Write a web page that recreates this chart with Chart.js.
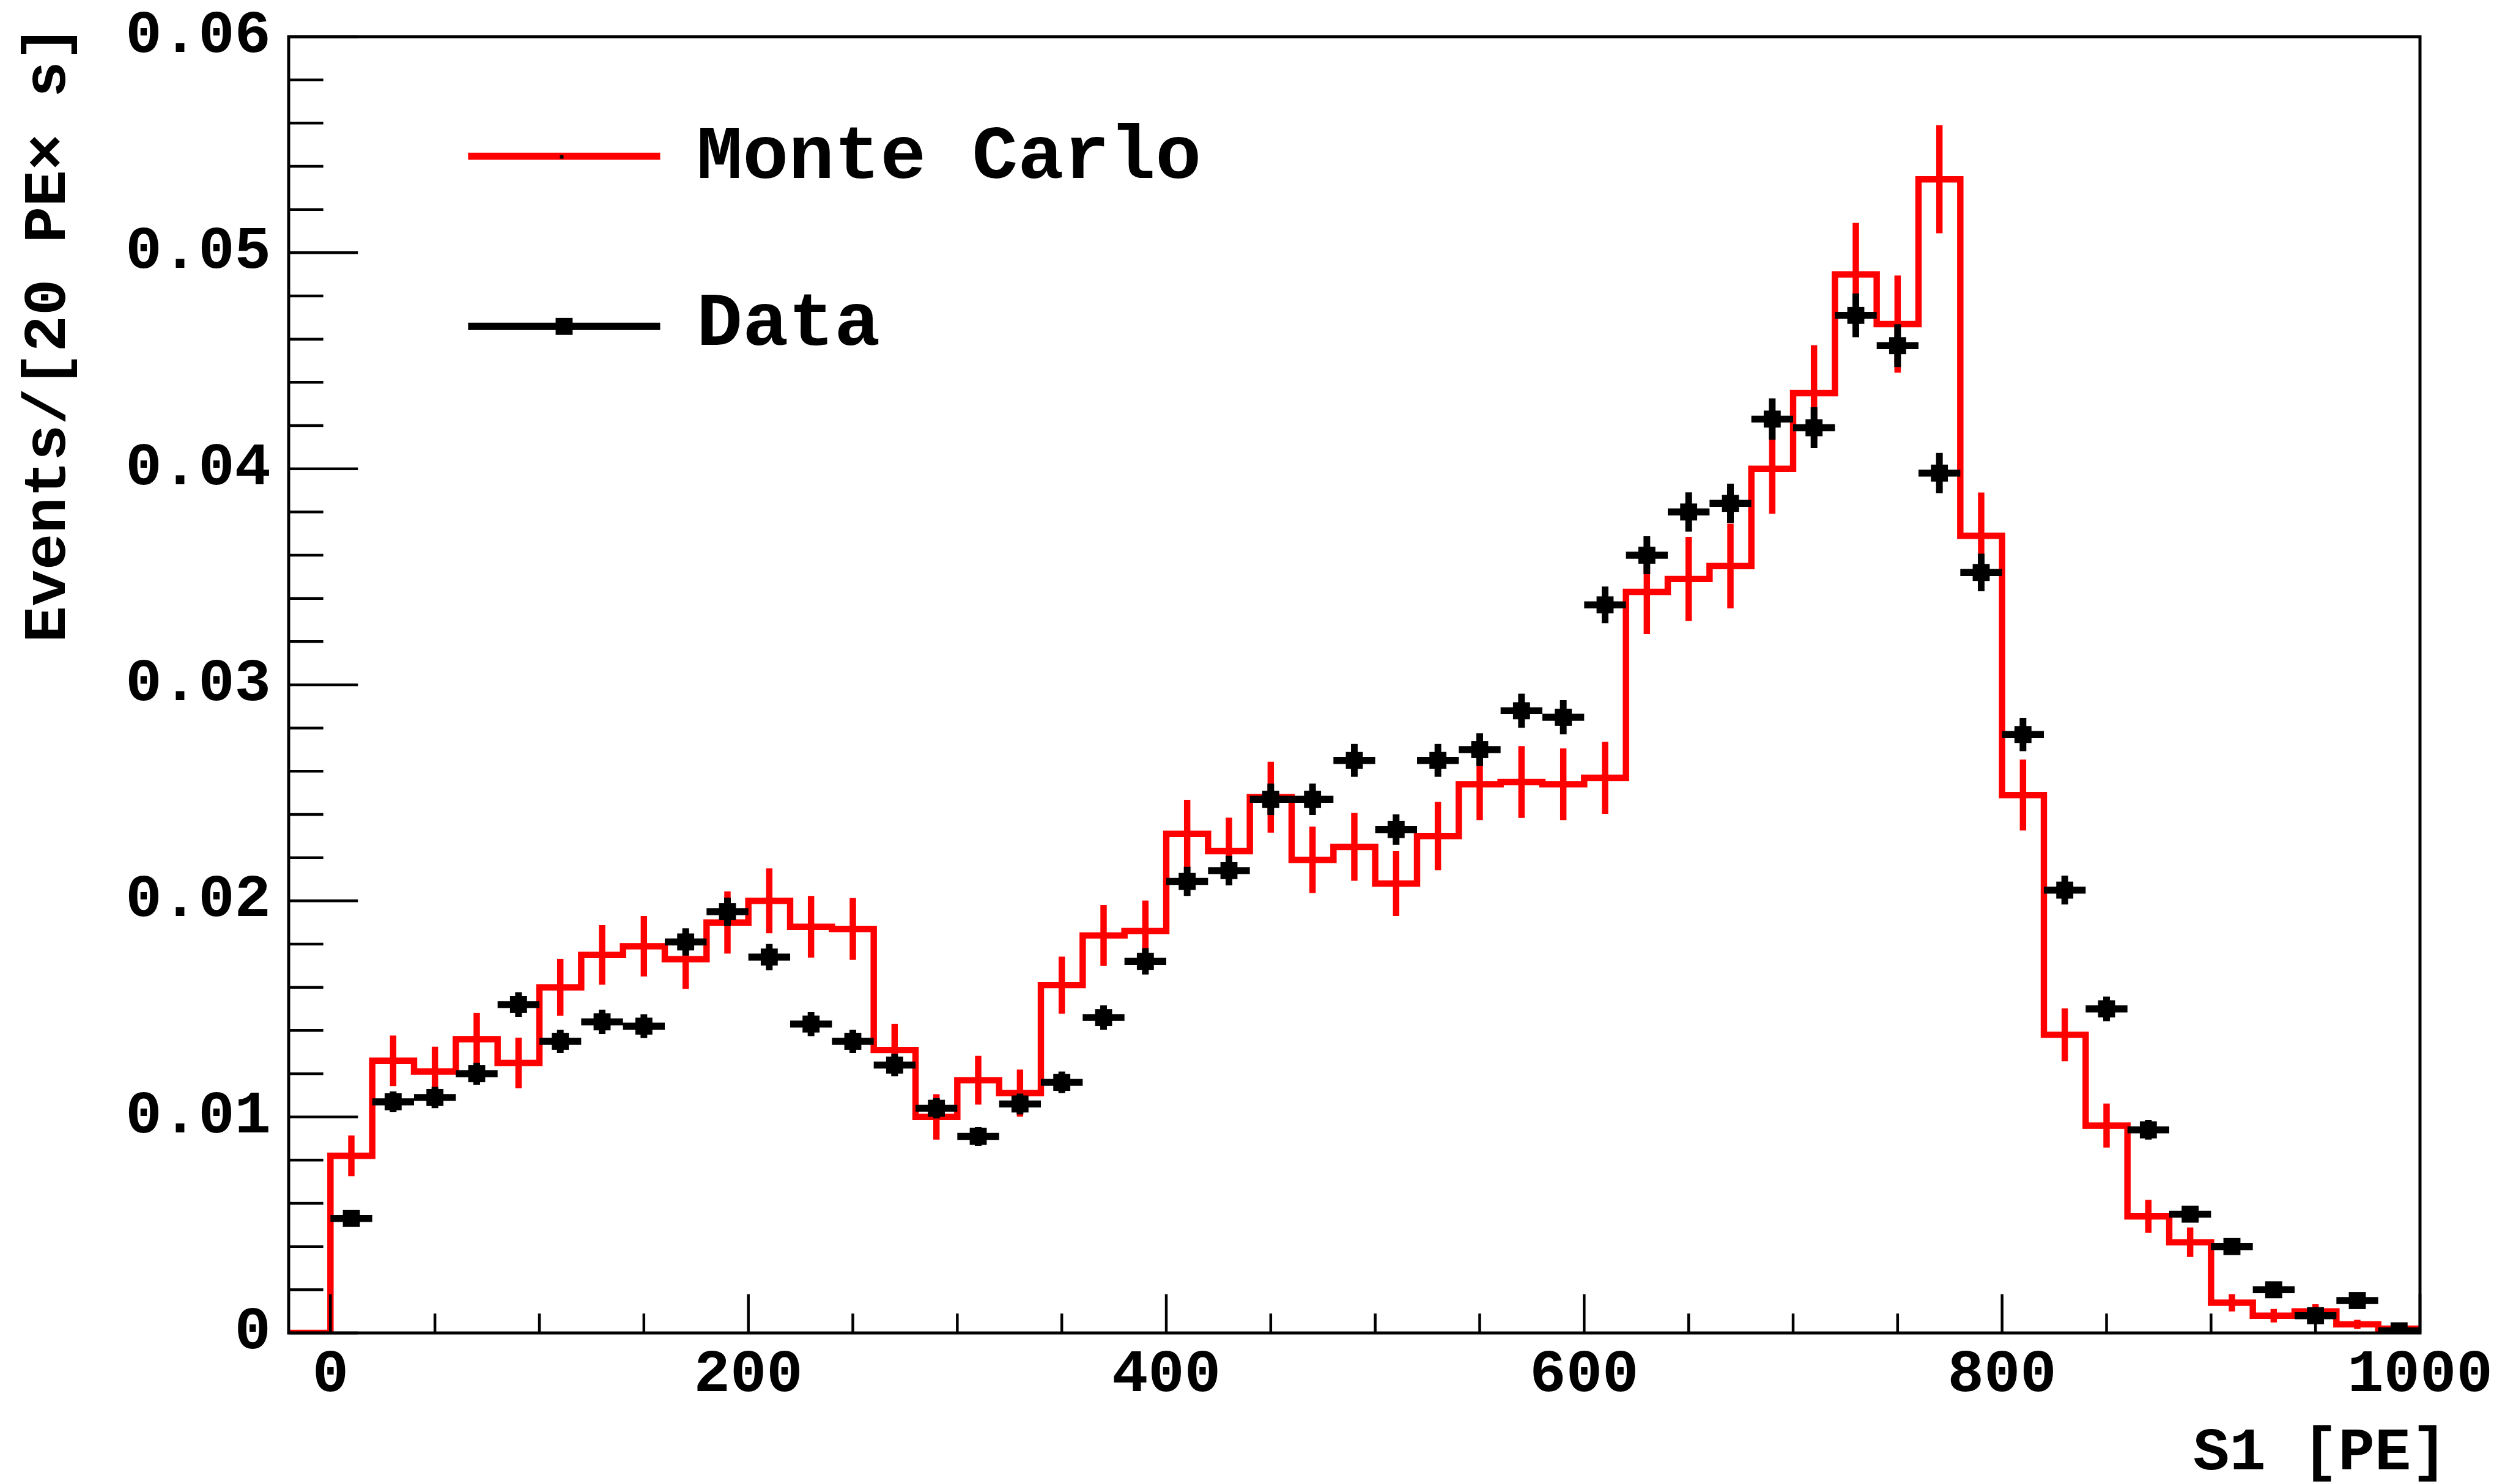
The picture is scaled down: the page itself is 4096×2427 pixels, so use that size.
<!DOCTYPE html>
<html>
<head>
<meta charset="utf-8">
<script src="https://cdn.jsdelivr.net/npm/chart.js@4.4.1/dist/chart.umd.min.js"></script>
<style>
  html, body { margin: 0; padding: 0; background: #fff; }
  canvas { display: block; }
</style>
</head>
<body>
<canvas id="s1Chart" width="4096" height="2427"></canvas>
<script>
// S1 spectrum, 20 PE bins from 0 to 1000
const binCenters = [10, 30, 50, 70, 90, 110, 130, 150, 170, 190, 210, 230, 250, 270, 290, 310, 330, 350, 370, 390,
  410, 430, 450, 470, 490, 510, 530, 550, 570, 590, 610, 630, 650, 670, 690, 710, 730, 750, 770, 790,
  810, 830, 850, 870, 890, 910, 930, 950, 970, 990];
const binHalfWidth = 10;

const mcValues = [0.0082, 0.0126, 0.0121, 0.0136, 0.0125, 0.0160, 0.0175, 0.0179, 0.0173, 0.0190,
  0.0200, 0.0188, 0.0187, 0.0131, 0.0100, 0.0117, 0.0111, 0.0161, 0.0184, 0.0186,
  0.0231, 0.0223, 0.0248, 0.0219, 0.0225, 0.0208, 0.0230, 0.0254, 0.0255, 0.0254,
  0.0257, 0.0343, 0.0349, 0.0355, 0.0400, 0.0435, 0.0490, 0.0467, 0.0534, 0.0369,
  0.0249, 0.0138, 0.0096, 0.0054, 0.0042, 0.0014, 0.0008, 0.0010, 0.0004, 0.0002];
const mcErrors = [0.00094, 0.00117, 0.00115, 0.00121, 0.00117, 0.00132, 0.00138, 0.00140, 0.00137, 0.00144,
  0.00150, 0.00143, 0.00143, 0.00120, 0.00105, 0.00113, 0.00109, 0.00132, 0.00141, 0.00142,
  0.00158, 0.00155, 0.00164, 0.00154, 0.00157, 0.00150, 0.00158, 0.00166, 0.00166, 0.00166,
  0.00167, 0.00195, 0.00195, 0.00196, 0.00208, 0.00222, 0.00238, 0.00225, 0.00250, 0.00200,
  0.00164, 0.00122, 0.00102, 0.00076, 0.00068, 0.00040, 0.00031, 0.00033, 0.00021, 0.00015];

const dataValues = [0.0053, 0.0107, 0.0109, 0.0120, 0.0152, 0.0135, 0.0144, 0.0142, 0.0181, 0.0195,
  0.0174, 0.0143, 0.0135, 0.0124, 0.0104, 0.0091, 0.0106, 0.0116, 0.0146, 0.0172,
  0.0209, 0.0214, 0.0247, 0.0247, 0.0265, 0.0233, 0.0265, 0.0270, 0.0288, 0.0285,
  0.0337, 0.0360, 0.0380, 0.0384, 0.0423, 0.0419, 0.0471, 0.0457, 0.0398, 0.0352,
  0.0277, 0.0205, 0.0150, 0.0094, 0.0055, 0.0040, 0.0020, 0.0008, 0.0015, 0.0001];
const dataErrors = [0.00034, 0.00048, 0.00049, 0.00051, 0.00057, 0.00054, 0.00056, 0.00055, 0.00063, 0.00065,
  0.00061, 0.00056, 0.00054, 0.00052, 0.00047, 0.00044, 0.00048, 0.00050, 0.00056, 0.00061,
  0.00067, 0.00068, 0.00073, 0.00073, 0.00076, 0.00071, 0.00076, 0.00076, 0.00079, 0.00079,
  0.00085, 0.00088, 0.00091, 0.00091, 0.00096, 0.00095, 0.00101, 0.00099, 0.00093, 0.00087,
  0.00077, 0.00067, 0.00057, 0.00045, 0.00035, 0.00029, 0.00021, 0.00013, 0.00018, 0.00005];

const xTickValues = [0, 200, 400, 600, 800, 1000];
const yTickValues = [0, 0.01, 0.02, 0.03, 0.04, 0.05, 0.06];

const S = 0.994;
const font = size => ({ family: 'Liberation Mono', weight: 'bold', size: size });

// histogram outline: value held from the left edge of each bin
const mcSteps = [{ x: -20, y: 0 }];
binCenters.forEach((c, i) => mcSteps.push({ x: c - binHalfWidth, y: mcValues[i] }));
mcSteps.push({ x: 1000, y: mcValues[mcValues.length - 1] });

const verticalBars = (vals, errs) => {
  const pts = [];
  binCenters.forEach((c, i) => {
    pts.push({ x: c, y: vals[i] - errs[i] }, { x: c, y: vals[i] + errs[i] }, { x: c, y: null });
  });
  return pts;
};
const horizontalBars = vals => {
  const pts = [];
  binCenters.forEach((c, i) => {
    pts.push({ x: c - binHalfWidth, y: vals[i] }, { x: c + binHalfWidth, y: vals[i] }, { x: c + binHalfWidth, y: null });
  });
  return pts;
};

// frame, inward ticks, axis titles and legend
const rootStyle = {
  id: 'rootStyle',
  afterDatasetsDraw(chart) {
    const { ctx, chartArea: a, scales: { x, y } } = chart;
    ctx.save();
    ctx.strokeStyle = '#000';
    ctx.lineWidth = 4.5 * S;
    ctx.beginPath();
    for (let v = 0; v <= 1000; v += 50) {
      const px = x.getPixelForValue(v);
      const len = xTickValues.includes(v) ? 64 * S : 32 * S;
      ctx.moveTo(px, a.bottom);
      ctx.lineTo(px, a.bottom - len);
    }
    for (let k = 0; k <= 30; k++) {
      const v = k * 0.002;
      const py = y.getPixelForValue(v);
      const len = k % 5 === 0 ? 114 * S : 57 * S;
      ctx.moveTo(a.left, py);
      ctx.lineTo(a.left + len, py);
    }
    ctx.stroke();

    ctx.lineWidth = 5 * S;
    ctx.strokeRect(a.left, a.top, a.right - a.left, a.bottom - a.top);

    // axis titles
    ctx.fillStyle = '#000';
    ctx.font = 'bold 99px "Liberation Mono"';
    ctx.textBaseline = 'alphabetic';
    ctx.textAlign = 'right';
    ctx.fillText('S1 [PE]', 4026 * S, 2418 * S);

    ctx.save();
    ctx.translate(107 * S, 41 * S);
    ctx.rotate(-Math.PI / 2);
    ctx.textAlign = 'right';
    ctx.fillText('Events/[20 PE\u00d7 s]', 0, 0);
    ctx.restore();

    // legend
    ctx.lineCap = 'butt';
    ctx.strokeStyle = '#ff0000';
    ctx.lineWidth = 11.5 * S;
    ctx.beginPath();
    ctx.moveTo(770 * S, 257 * S);
    ctx.lineTo(1086 * S, 257 * S);
    ctx.stroke();
    ctx.fillStyle = '#000';
    ctx.fillRect(921 * S, 255 * S, 6 * S, 6 * S);

    ctx.strokeStyle = '#000';
    ctx.lineWidth = 12 * S;
    ctx.beginPath();
    ctx.moveTo(770 * S, 537 * S);
    ctx.lineTo(1086 * S, 537 * S);
    ctx.stroke();
    ctx.fillRect((928 - 14) * S, (537 - 14) * S, 28 * S, 28 * S);

    ctx.font = 'bold 125px "Liberation Mono"';
    ctx.textAlign = 'left';
    ctx.fillText('Monte Carlo', 1146 * S, 293 * S);
    ctx.fillText('Data', 1146 * S, 567 * S);
    ctx.restore();
  }
};

new Chart(document.querySelector('#s1Chart'), {
  type: 'line',
  data: {
    datasets: [
      {
        label: 'Data',
        data: binCenters.map((c, i) => ({ x: c, y: dataValues[i] })),
        showLine: false,
        pointStyle: 'rect',
        pointRadius: 19.8 * S,
        pointBackgroundColor: '#000',
        pointBorderColor: '#000',
        pointBorderWidth: 0,
        order: 0
      },
      {
        data: horizontalBars(dataValues),
        borderColor: '#000',
        borderWidth: 11.5 * S,
        pointRadius: 0,
        spanGaps: false,
        order: 1
      },
      {
        data: verticalBars(dataValues, dataErrors),
        borderColor: '#000',
        borderWidth: 11 * S,
        pointRadius: 0,
        spanGaps: false,
        order: 1
      },
      {
        label: 'Monte Carlo',
        data: mcSteps,
        stepped: 'before',
        borderColor: '#ff0000',
        borderWidth: 10.5 * S,
        pointRadius: 0,
        fill: false,
        order: 2
      },
      {
        data: verticalBars(mcValues, mcErrors),
        borderColor: '#ff0000',
        borderWidth: 10.5 * S,
        pointRadius: 0,
        spanGaps: false,
        order: 2
      }
    ]
  },
  options: {
    responsive: false,
    animation: false,
    devicePixelRatio: 1,
    events: [],
    layout: { padding: { top: 60, right: 139, left: 0, bottom: 0 } },
    plugins: { legend: { display: false }, tooltip: { enabled: false } },
    scales: {
      x: {
        type: 'linear',
        min: -20,
        max: 1000,
        afterFit: s => { s.height = 247; s.paddingLeft = 0; s.paddingRight = 0; },
        afterBuildTicks: s => { s.ticks = xTickValues.map(v => ({ value: v })); },
        grid: { display: false, drawTicks: false },
        border: { display: false },
        ticks: {
          padding: 11,
          color: '#000',
          font: font(99),
          maxRotation: 0,
          autoSkip: false,
          callback: v => String(v)
        }
      },
      y: {
        type: 'linear',
        min: 0,
        max: 0.06,
        afterFit: s => { s.width = 472; s.paddingTop = 0; s.paddingBottom = 0; },
        afterBuildTicks: s => { s.ticks = yTickValues.map(v => ({ value: v })); },
        grid: { display: false, drawTicks: false },
        border: { display: false },
        ticks: {
          padding: 29,
          color: '#000',
          font: font(99),
          callback: v => (v === 0 ? '0' : v.toFixed(2))
        }
      }
    }
  },
  plugins: [rootStyle]
});
</script>
</body>
</html>
